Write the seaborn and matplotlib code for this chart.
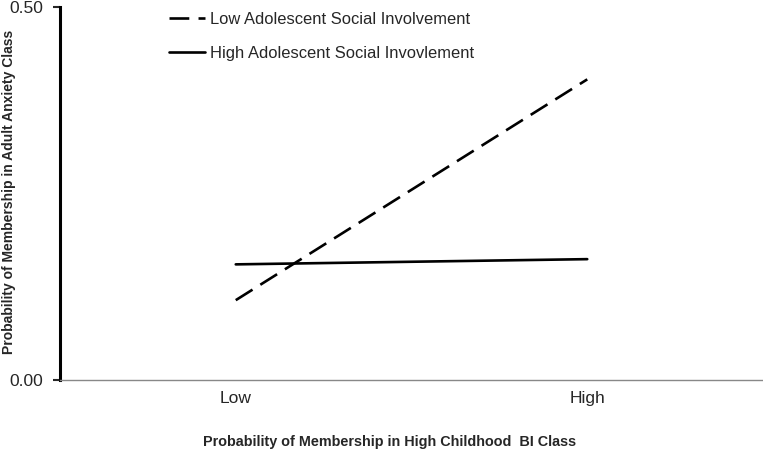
import numpy as np
import matplotlib
matplotlib.use('Agg')
import matplotlib.pyplot as plt
import seaborn as sns
import pandas as pd

sns.set_style('white')
plt.rcParams['font.family'] = ['Liberation Sans', 'DejaVu Sans']

bi_class = ['Low', 'High']
low_social = [0.107, 0.403]
high_social = [0.155, 0.162]
series_names = ['Low Adolescent Social Involvement', 'High Adolescent Social Invovlement']

df = pd.DataFrame({
    'bi': bi_class * 2,
    'prob': low_social + high_social,
    'group': [series_names[0]] * 2 + [series_names[1]] * 2,
})

fig = plt.figure(figsize=(7.63, 4.55), dpi=100)
ax = fig.add_axes([60 / 763, 1 - 380 / 455, 1 - 60 / 763, 373 / 455])

sns.lineplot(data=df, x='bi', y='prob', hue='group', style='group',
             palette=['black', 'black'], dashes=[(7.5, 3.5), ''], linewidth=1.9,
             sort=False, ax=ax)

ax.set_xlim(-0.5, 1.5)
ax.set_ylim(0, 0.5)
ax.set_yticks([0.0, 0.5])
ax.set_yticklabels(['0.00', '0.50'], fontsize=12.5)
ax.set_xticks([0, 1])
ax.set_xticklabels(bi_class, fontsize=12.5)
ax.set_xticks([-0.5, 0.5, 1.5], minor=True)
ax.tick_params(axis='x', which='major', length=0, pad=8)
ax.tick_params(axis='x', which='minor', length=5, width=1, color='#888888', direction='out')
ax.tick_params(axis='y', length=5, width=1.5, direction='out', left=True, pad=7)

for s in ['top', 'right']:
    ax.spines[s].set_visible(False)
ax.spines['left'].set_linewidth(2.2)
ax.spines['left'].set_color('black')
ax.spines['bottom'].set_linewidth(1)
ax.spines['bottom'].set_color('#888888')

ax.set_xlabel('')
ax.set_ylabel('Probability of Membership in Adult Anxiety Class', fontsize=10,
              fontweight='bold')
ax.yaxis.set_label_coords(-0.062, 0.505)
fig.text(0.51, 1 - 442 / 455, 'Probability of Membership in High Childhood  BI Class',
         ha='center', va='center', fontsize=10.4, fontweight='bold')

leg = ax.legend(title=None, frameon=False, fontsize=11.9, handlelength=2.2,
                handletextpad=0.25, labelspacing=1.15,
                loc='upper left', bbox_to_anchor=(0.134, 1.027))

fig.savefig('out.png', dpi=100)
